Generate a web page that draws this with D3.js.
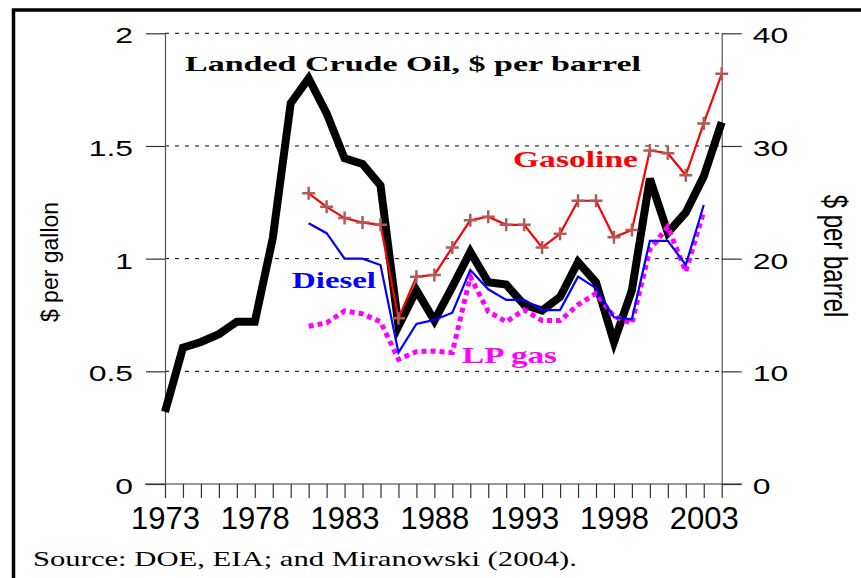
<!DOCTYPE html>
<html>
<head>
<meta charset="utf-8">
<script src="https://cdn.jsdelivr.net/npm/d3@7"></script>
<style>
  body { margin: 0; background: #fff; }
  svg { display: block; }
</style>
</head>
<body>
<div class="chart"></div>
<script>
// categories
var years = [1973, 1974, 1975, 1976, 1977, 1978, 1979, 1980, 1981, 1982, 1983, 1984, 1985, 1986, 1987, 1988,
             1989, 1990, 1991, 1992, 1993, 1994, 1995, 1996, 1997, 1998, 1999, 2000, 2001, 2002, 2003, 2004];
var fuelYears = [1981, 1982, 1983, 1984, 1985, 1986, 1987, 1988, 1989, 1990, 1991, 1992, 1993, 1994, 1995, 1996,
                 1997, 1998, 1999, 2000, 2001, 2002, 2003, 2004];

// landed crude oil, $ per barrel (right axis)
var crudeOil = [6.4, 12.1, 12.6, 13.3, 14.4, 14.4, 21.8, 33.8, 36.0, 32.9, 28.9, 28.4, 26.5, 14.0, 17.2, 14.5,
                17.5, 20.6, 17.9, 17.7, 15.9, 15.4, 16.6, 19.7, 17.9, 12.6, 17.2, 27.1, 22.3, 24.1, 27.3, 32.1];

// fuels, $ per gallon (left axis)
var gasoline = [1.29, 1.23, 1.18, 1.16, 1.15, 0.735, 0.92, 0.928, 1.05, 1.17, 1.186, 1.15, 1.15, 1.05, 1.11, 1.257,
                1.257, 1.095, 1.127, 1.48, 1.468, 1.37, 1.60, 1.82];
var diesel = [1.157, 1.113, 1.0, 1.0, 0.972, 0.583, 0.71, 0.728, 0.76, 0.95, 0.864, 0.817, 0.817, 0.772, 0.772, 0.92,
              0.869, 0.74, 0.731, 1.079, 1.079, 0.972, 1.238];
var lpGas = [0.70, 0.715, 0.768, 0.755, 0.72, 0.553, 0.587, 0.59, 0.583, 0.92, 0.765, 0.72, 0.772, 0.725, 0.725, 0.795,
             0.846, 0.743, 0.713, 1.04, 1.142, 0.942, 1.209];

// tick labels
var xTickLabels = [1973, 1978, 1983, 1988, 1993, 1998, 2003];
var leftTicks = [0, 0.5, 1, 1.5, 2];
var rightTicks = [0, 10, 20, 30, 40];

var W = 861, H = 578;
var plotLeft = 165, plotRight = 721.7, plotTop = 33.3, plotBottom = 484;

var svg = d3.select(".chart").append("svg")
    .attr("width", W)
    .attr("height", H);

// frame (only top and left edges are inside the picture)
svg.append("rect")
    .attr("x", 13.5).attr("y", 10)
    .attr("width", 900).attr("height", 700)
    .attr("fill", "none")
    .attr("stroke", "#000")
    .attr("stroke-width", 3.5);

var x = d3.scaleLinear().domain([1973, 2004]).range([plotLeft, plotRight]);
var yGal = d3.scaleLinear().domain([0, 2]).range([plotBottom, plotTop]);
var yBbl = d3.scaleLinear().domain([0, 40]).range([plotBottom, plotTop]);

// dashed grid
svg.append("g")
    .selectAll("line")
    .data(leftTicks.filter(function (d) { return d > 0; }))
    .enter().append("line")
    .attr("x1", plotLeft).attr("x2", plotRight)
    .attr("y1", function (d) { return yGal(d); })
    .attr("y2", function (d) { return yGal(d); })
    .attr("stroke", "#000")
    .attr("stroke-width", 1)
    .attr("stroke-dasharray", "4,6");

// x axis line runs out to the y tick ends
svg.append("line")
    .attr("x1", plotLeft - 20).attr("x2", plotRight + 20)
    .attr("y1", plotBottom).attr("y2", plotBottom)
    .attr("stroke", "#333").attr("stroke-width", 1.2);

var xAxis = svg.append("g")
    .attr("transform", "translate(0," + plotBottom + ")")
    .call(d3.axisBottom(x).tickValues(years).tickSize(14).tickSizeOuter(0)
        .tickFormat(function (d) { return xTickLabels.indexOf(d) >= 0 ? d : ""; }));
xAxis.select(".domain").remove();
xAxis.selectAll(".tick line").attr("stroke", "#333").attr("stroke-width", 1.2);
xAxis.selectAll(".tick text")
    .attr("y", 45).attr("dy", 0)
    .attr("fill", "#000")
    .style("font-family", "'Liberation Sans', Arial, sans-serif")
    .style("font-size", "31px");

var yAxisL = svg.append("g")
    .attr("transform", "translate(" + plotLeft + ",0)")
    .call(d3.axisLeft(yGal).tickValues(leftTicks).tickSize(19).tickSizeOuter(0)
        .tickFormat(function (d) { return String(d); }));
yAxisL.select(".domain").attr("stroke", "#555").attr("stroke-width", 1.2);
yAxisL.selectAll(".tick line").attr("stroke", "#333").attr("stroke-width", 1.2);
yAxisL.selectAll(".tick text")
    .attr("x", -32 / 1.45).attr("dy", 9.5)
    .attr("transform", "scale(1.45,1)")
    .attr("fill", "#000")
    .style("font-family", "'Liberation Sans', Arial, sans-serif")
    .style("font-size", "22px");

var yAxisR = svg.append("g")
    .attr("transform", "translate(" + plotRight + ",0)")
    .call(d3.axisRight(yBbl).tickValues(rightTicks).tickSize(20).tickSizeOuter(0));
yAxisR.select(".domain").attr("stroke", "#555").attr("stroke-width", 1.2);
yAxisR.selectAll(".tick line").attr("stroke", "#333").attr("stroke-width", 1.2);
yAxisR.selectAll(".tick text")
    .attr("x", 31 / 1.45).attr("dy", 9.5)
    .attr("transform", "scale(1.45,1)")
    .attr("fill", "#000")
    .style("font-family", "'Liberation Sans', Arial, sans-serif")
    .style("font-size", "22px");

// axis titles
svg.append("text")
    .attr("transform", "translate(58,262) rotate(-90)")
    .attr("text-anchor", "middle")
    .style("font-family", "'Liberation Sans', Arial, sans-serif")
    .style("font-size", "23px")
    .text("$ per gallon");

svg.append("text")
    .attr("transform", "translate(824,256) rotate(90) scale(1,1.4)")
    .attr("text-anchor", "middle")
    .style("font-family", "'Liberation Sans', Arial, sans-serif")
    .style("font-size", "24px")
    .text("$ per barrel");

// series
var crudeLine = d3.line()
    .x(function (d, i) { return x(years[i]); })
    .y(function (d) { return yBbl(d); });
var fuelLine = d3.line()
    .x(function (d, i) { return x(fuelYears[i]); })
    .y(function (d) { return yGal(d); });

svg.append("path")
    .datum(crudeOil)
    .attr("d", crudeLine)
    .attr("fill", "none")
    .attr("stroke", "#000")
    .attr("stroke-width", 8)
    .attr("stroke-linejoin", "miter");

svg.append("path")
    .datum(lpGas)
    .attr("d", fuelLine)
    .attr("fill", "none")
    .attr("stroke", "#ff00ff")
    .attr("stroke-width", 5)
    .attr("stroke-dasharray", "5,4");

svg.append("path")
    .datum(diesel)
    .attr("d", fuelLine)
    .attr("fill", "none")
    .attr("stroke", "#0000ff")
    .attr("stroke-width", 2.2);

svg.append("path")
    .datum(gasoline)
    .attr("d", fuelLine)
    .attr("fill", "none")
    .attr("stroke", "#ff0000")
    .attr("stroke-width", 2.2);

svg.append("g")
    .selectAll("path")
    .data(gasoline)
    .enter().append("path")
    .attr("transform", function (d, i) { return "translate(" + x(fuelYears[i]) + "," + yGal(d) + ")"; })
    .attr("d", "M-6.5,0H6.5M0,-6.5V6.5")
    .attr("stroke", "#b05a5a")
    .attr("stroke-width", 2.5);

// labels
function label(txt, x0, y0, len, color, size) {
    svg.append("text")
        .attr("x", x0).attr("y", y0)
        .attr("textLength", len)
        .attr("lengthAdjust", "spacingAndGlyphs")
        .attr("fill", color)
        .style("font-family", "'Liberation Serif', 'Times New Roman', serif")
        .style("font-weight", "bold")
        .style("font-size", size + "px")
        .text(txt);
}
label("Landed Crude Oil, $ per barrel", 185, 71, 456, "#000", 21);
label("Gasoline", 513, 167, 125, "#ff0000", 23);
label("Diesel", 292, 288, 84, "#0000ff", 24);
label("LP gas", 462, 363, 95, "#ff00ff", 23);

svg.append("text")
    .attr("x", 33).attr("y", 566)
    .attr("textLength", 544)
    .attr("lengthAdjust", "spacingAndGlyphs")
    .style("font-family", "'Liberation Serif', 'Times New Roman', serif")
    .style("font-size", "21px")
    .text("Source: DOE, EIA; and Miranowski (2004).");
</script>
</body>
</html>
